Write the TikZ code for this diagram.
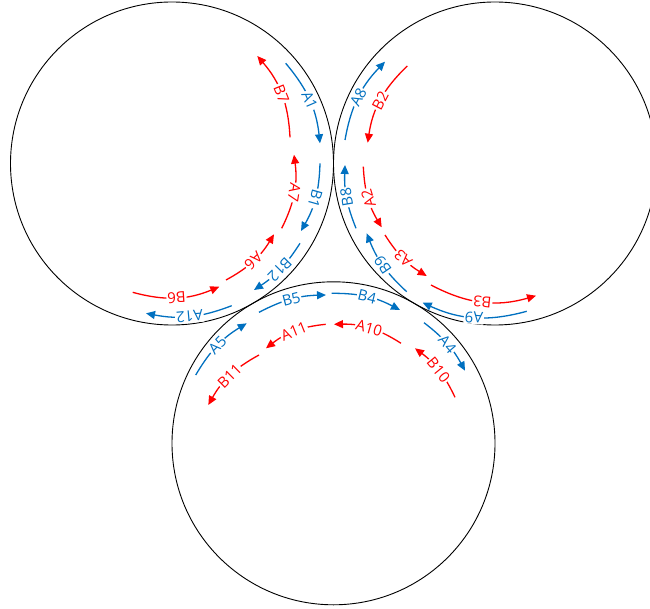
\documentclass[tikz,border=0pt]{standalone}
\usepackage{fontspec}
\setmainfont{Open Sans}
\usetikzlibrary{arrows.meta}
\definecolor{flowblue}{HTML}{0070C0}
\definecolor{flowred}{HTML}{FF0000}
\tikzset{
  roller/.style={black, line width=0.9pt},
  flow/.style={line width=1.3pt},
  fwd/.style={flow, -{Triangle[length=9pt,width=8pt]}},
  rev/.style={flow, {Triangle[length=9pt,width=8pt]}-},
  tag/.style={
    fill=white,
    inner sep=1pt,
    sloped,
    allow upside down,
    font=\fontsize{15}{15}\selectfont
  }
}

\begin{document}
\begin{tikzpicture}[x=1pt,y=1pt]
    \useasboundingbox (0,0) rectangle (650,-609);

    % rollers
    \coordinate (left) at (172,-163.5);
    \coordinate (right) at (495,-163.5);
    \coordinate (bottom) at (333.5,-443.3);
    \draw[roller] (left) circle[radius=161.5];
    \draw[roller] (right) circle[radius=161.5];
    \draw[roller] (bottom) circle[radius=161.5];

    % ends of the arrows, left roller
    \coordinate (a1s) at (285.7,-63.3);   \coordinate (a1e) at (320,-143.3);
    \coordinate (b7s) at (257.3,-56);     \coordinate (b7e) at (290,-137.3);
    \coordinate (a7s) at (294,-154.7);    \coordinate (a7e) at (281.7,-228.3);
    \coordinate (b1s) at (320,-163.3);    \coordinate (b1e) at (301,-231);
    \coordinate (a6s) at (274,-234.3);    \coordinate (a6e) at (226,-280);
    \coordinate (b12s) at (300,-243.3);   \coordinate (b12e) at (254,-290);
    \coordinate (b6s) at (219.3,-286.7);  \coordinate (b6e) at (132.7,-292.3);
    \coordinate (a12s) at (231.7,-305.7); \coordinate (a12e) at (146,-313.3);

    % ends of the arrows, right roller
    \coordinate (a8s) at (345,-140);      \coordinate (a8e) at (385,-61.7);
    \coordinate (b2s) at (367.7,-142.7);  \coordinate (b2e) at (407.3,-66);
    \coordinate (b8s) at (356,-228.3);    \coordinate (b8e) at (345,-165);
    \coordinate (a2s) at (381.7,-227.3);  \coordinate (a2e) at (363.3,-166.7);
    \coordinate (b9s) at (406.7,-291.7);  \coordinate (b9e) at (366.7,-233.3);
    \coordinate (a3s) at (426.7,-276);    \coordinate (a3e) at (385,-235);
    \coordinate (b3s) at (536,-295.7);    \coordinate (b3e) at (431,-285);
    \coordinate (a9s) at (526.7,-311.3);  \coordinate (a9e) at (422.7,-302.7);

    % ends of the arrows, bottom roller
    \coordinate (b5s) at (259,-312.3);    \coordinate (b5e) at (326,-295);
    \coordinate (b4s) at (331.7,-293.3);  \coordinate (b4e) at (400,-310);
    \coordinate (a5s) at (195.7,-375);    \coordinate (a5e) at (246.7,-323.3);
    \coordinate (a4s) at (424,-322.7);    \coordinate (a4e) at (465,-370.7);
    \coordinate (a11s) at (266,-348.3);   \coordinate (a11e) at (325.7,-324.3);
    \coordinate (a10s) at (334,-324.3);   \coordinate (a10e) at (401,-343.3);
    \coordinate (b11s) at (208.3,-405);   \coordinate (b11e) at (259,-355);
    \coordinate (b10s) at (415,-348.3);   \coordinate (b10e) at (455,-397.3);

    % left roller
    \draw[flowblue,fwd] (a1s) to[bend left=17] node[tag] {A1} (a1e);
    \draw[flowred,rev] (b7s) to[bend left=19] node[tag] {B7} (b7e);
    \draw[flowred,rev] (a7s) to[bend left=17] node[tag] {A7} (a7e);
    \draw[flowblue,fwd] (b1s) to[bend left=14] node[tag] {B1} (b1e);
    \draw[flowred,rev] (a6s) to[bend left=15] node[tag] {A6} (a6e);
    \draw[flowblue,fwd] (b12s) to[bend left=12] node[tag] {B12} (b12e);
    \draw[flowred,rev] (b6s) to[bend left=19] node[tag] {B6} (b6e);
    \draw[flowblue,fwd] (a12s) to[bend left=16] node[tag] {A12} (a12e);

    % right roller
    \draw[flowblue,fwd] (a8s) to[bend left=17] node[tag] {A8} (a8e);
    \draw[flowred,rev] (b2s) to[bend left=19] node[tag] {B2} (b2e);
    \draw[flowblue,fwd] (b8s) to[bend left=12] node[tag] {B8} (b8e);
    \draw[flowred,rev] (a2s) to[bend left=14] node[tag] {A2} (a2e);
    \draw[flowblue,fwd] (b9s) to[bend left=13] node[tag] {B9} (b9e);
    \draw[flowred,rev] (a3s) to[bend left=13] node[tag] {A3} (a3e);
    \draw[flowred,rev] (b3s) to[bend left=22] node[tag] {B3} (b3e);
    \draw[flowblue,fwd] (a9s) to[bend left=20] node[tag] {A9} (a9e);

    % bottom roller
    \draw[flowblue,fwd] (b5s) to[bend left=13] node[tag] {B5} (b5e);
    \draw[flowblue,fwd] (b4s) to[bend left=14] node[tag] {B4} (b4e);
    \draw[flowblue,fwd] (a5s) to[bend left=14] node[tag] {A5} (a5e);
    \draw[flowblue,fwd] (a4s) to[bend left=12] node[tag] {A4} (a4e);
    \draw[flowred,rev] (a11s) to[bend left=16] node[tag] {A11} (a11e);
    \draw[flowred,rev] (a10s) to[bend left=17] node[tag] {A10} (a10e);
    \draw[flowred,rev] (b11s) to[bend left=16] node[tag] {B11} (b11e);
    \draw[flowred,rev] (b10s) to[bend left=14] node[tag] {B10} (b10e);
\end{tikzpicture}
\end{document}
